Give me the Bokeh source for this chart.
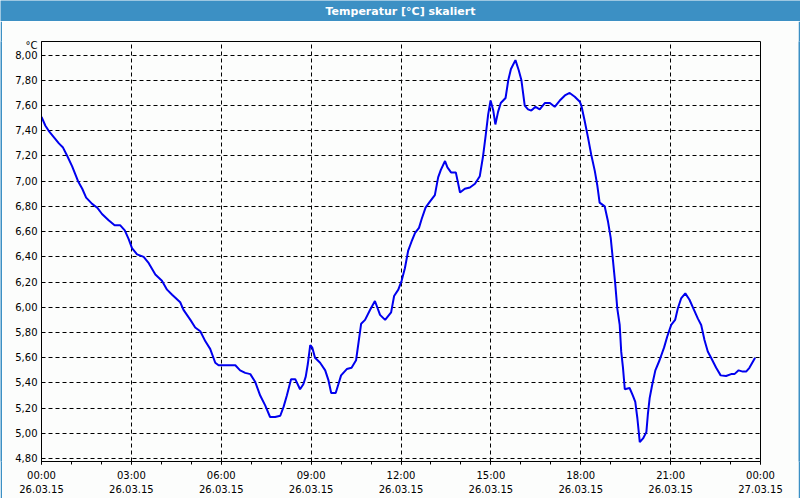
from bokeh.plotting import figure
from bokeh.layouts import column, row
from bokeh.models import Range1d, FixedTicker
from bokeh.core.properties import value
from bokeh.embed import file_html
from bokeh.resources import INLINE

# ---- data (hours since 26.03.15 00:00, temperature in °C) ----
hours = [0.00, 0.13, 0.24, 0.41, 0.58, 0.71, 0.86, 1.02, 1.22, 1.36, 1.49, 1.69, 1.86, 2.02,
         2.24, 2.44, 2.63, 2.78, 2.91, 3.02, 3.19, 3.41, 3.58, 3.80, 4.02, 4.19, 4.36, 4.63,
         4.74, 4.97, 5.13, 5.30, 5.47, 5.63, 5.80, 5.91, 6.47, 6.63, 6.80, 6.97, 7.13, 7.30,
         7.47, 7.63, 7.80, 7.97, 8.08, 8.19, 8.33, 8.47, 8.63, 8.74, 8.82, 8.89, 8.97, 9.04,
         9.13, 9.30, 9.47, 9.58, 9.67, 9.82, 9.91, 10.00, 10.19, 10.35, 10.50, 10.67, 10.80,
         10.97, 11.13, 11.30, 11.47, 11.67, 11.77, 11.91, 12.02, 12.13, 12.24, 12.35, 12.47,
         12.60, 12.69, 12.82, 12.97, 13.13, 13.24, 13.33, 13.47, 13.55, 13.67, 13.83, 13.97,
         14.13, 14.30, 14.47, 14.63, 14.74, 14.83, 14.91, 14.99, 15.08, 15.15, 15.24, 15.33,
         15.49, 15.58, 15.67, 15.82, 15.93, 16.02, 16.13, 16.24, 16.35, 16.49, 16.63, 16.80,
         16.97, 17.13, 17.30, 17.47, 17.63, 17.80, 17.97, 18.02, 18.13, 18.24, 18.35, 18.47,
         18.55, 18.63, 18.80, 18.91, 19.00, 19.08, 19.15, 19.22, 19.30, 19.35, 19.41, 19.47,
         19.63, 19.74, 19.82, 19.89, 19.97, 20.08, 20.19, 20.24, 20.30, 20.38, 20.49, 20.63,
         20.78, 20.89, 21.02, 21.15, 21.24, 21.35, 21.49, 21.63, 21.78, 21.91, 22.02, 22.13,
         22.24, 22.35, 22.52, 22.67, 22.85, 23.02, 23.13, 23.27, 23.41, 23.52, 23.63, 23.82]
temps = [7.51, 7.44, 7.40, 7.35, 7.30, 7.27, 7.20, 7.12, 7.00, 6.94, 6.87, 6.82, 6.79, 6.74,
         6.69, 6.65, 6.65, 6.61, 6.54, 6.47, 6.42, 6.40, 6.35, 6.26, 6.21, 6.14, 6.10, 6.04,
         5.98, 5.90, 5.84, 5.81, 5.73, 5.67, 5.56, 5.54, 5.54, 5.50, 5.48, 5.47, 5.41, 5.30,
         5.22, 5.13, 5.13, 5.14, 5.21, 5.30, 5.43, 5.43, 5.35, 5.39, 5.45, 5.55, 5.70, 5.68,
         5.60, 5.56, 5.50, 5.42, 5.32, 5.32, 5.39, 5.46, 5.51, 5.52, 5.58, 5.87, 5.90,
         5.98, 6.05, 5.94, 5.90, 5.96, 6.09, 6.14, 6.21, 6.31, 6.45, 6.52, 6.59,
         6.63, 6.70, 6.79, 6.84, 6.89, 7.03, 7.09, 7.16, 7.11, 7.07, 7.07, 6.91,
         6.94, 6.95, 6.98, 7.04, 7.20, 7.37, 7.53, 7.64, 7.56, 7.45, 7.55, 7.62,
         7.66, 7.80, 7.89, 7.96, 7.88, 7.80, 7.60, 7.57, 7.56, 7.59, 7.57, 7.62,
         7.62, 7.59, 7.64, 7.68, 7.70, 7.67, 7.63, 7.60, 7.48, 7.35, 7.21, 7.08,
         6.97, 6.83, 6.80, 6.68, 6.55, 6.36, 6.19, 5.99, 5.86, 5.65, 5.52, 5.35,
         5.36, 5.30, 5.25, 5.12, 4.93, 4.96, 5.01, 5.15, 5.28, 5.38, 5.50, 5.58,
         5.68, 5.77, 5.86, 5.90, 5.99, 6.07, 6.11, 6.06, 5.98, 5.91, 5.86, 5.74,
         5.65, 5.60, 5.52, 5.46, 5.455, 5.47, 5.47, 5.50, 5.49, 5.49, 5.52, 5.60]

x_ticks = [0, 3, 6, 9, 12, 15, 18, 21, 24]
x_tick_labels = ["00:00\n26.03.15", "03:00\n26.03.15", "06:00\n26.03.15", "09:00\n26.03.15",
                 "12:00\n26.03.15", "15:00\n26.03.15", "18:00\n26.03.15", "21:00\n26.03.15",
                 "00:00\n27.03.15"]
x_minor_ticks = list(range(0, 25))
y_ticks = [4.8, 5.0, 5.2, 5.4, 5.6, 5.8, 6.0, 6.2, 6.4, 6.6, 6.8, 7.0, 7.2, 7.4, 7.6, 7.8, 8.0]
y_tick_labels = ["4,80", "5,00", "5,20", "5,40", "5,60", "5,80", "6,00", "6,20", "6,40",
                 "6,60", "6,80", "7,00", "7,20", "7,40", "7,60", "7,80", "8,00"]
title_text = "Temperatur [°C] skaliert"
unit_text = "°C"
unit_pos = 8.075  # where the unit sits on the value axis

BLUE = "#3c90c4"
BG = "#fcfdfc"
FONT = "DejaVu Sans"


def bar(w, h):
    b = figure(width=w, height=h, x_range=Range1d(0, 1), y_range=Range1d(0, 1),
               toolbar_location=None, output_backend="svg", min_border=0,
               x_axis_location=None, y_axis_location=None)
    b.grid.visible = False
    b.outline_line_color = None
    b.background_fill_color = BLUE
    b.border_fill_color = BLUE
    return b


# ---- title bar ----
tp = bar(800, 21)
tp.text(x=[0.5], y=[0.5], text=[title_text], text_align="center", text_baseline="middle",
        text_color="white", text_font=value(FONT), text_font_style="bold",
        text_font_size="11px")

# ---- main chart ----
p = figure(width=796, height=477, x_range=Range1d(0, 24), y_range=Range1d(4.777, 8.108),
           toolbar_location=None, output_backend="svg",
           min_border_left=39, min_border_right=38, min_border_top=20, min_border_bottom=37)
p.background_fill_color = BG
p.border_fill_color = BG
p.outline_line_color = "black"
p.outline_line_width = 1

p.line(hours, temps, line_color="#0000ee", line_width=2)

xa = p.xaxis[0]
xa.ticker = FixedTicker(ticks=x_ticks, minor_ticks=x_minor_ticks)
xa.major_label_overrides = dict(zip(x_ticks, x_tick_labels))
xa.major_tick_in = 0
xa.major_tick_out = 3
xa.minor_tick_in = 0
xa.minor_tick_out = 3
xa.major_label_standoff = 5
xa.major_label_text_font = FONT
xa.major_label_text_font_size = "10px"
xa.major_label_text_color = "black"
xa.major_label_text_line_height = 1.3
xa.axis_line_color = "black"
xa.major_tick_line_color = "black"
xa.minor_tick_line_color = "black"

ya = p.yaxis[0]
ya.ticker = FixedTicker(ticks=y_ticks + [unit_pos], minor_ticks=[])
overrides = dict(zip(y_ticks, y_tick_labels))
overrides[unit_pos] = unit_text
ya.major_label_overrides = overrides
ya.major_tick_in = 0
ya.major_tick_out = 0
ya.minor_tick_in = 0
ya.minor_tick_out = 0
ya.major_label_standoff = 4
ya.major_label_text_font = FONT
ya.major_label_text_font_size = "10px"
ya.major_label_text_color = "black"
ya.axis_line_color = "black"

p.xgrid[0].ticker = FixedTicker(ticks=x_ticks)
p.ygrid[0].ticker = FixedTicker(ticks=y_ticks)
for g in (p.xgrid[0], p.ygrid[0]):
    g.grid_line_color = "black"
    g.grid_line_dash = "4 3"
    g.grid_line_width = 1

lb = bar(2, 477)
rb = bar(2, 477)
bb = bar(800, 2)

layout = column(tp, row(lb, p, rb), bb)

open("out.html", "w").write(file_html(layout, INLINE))
